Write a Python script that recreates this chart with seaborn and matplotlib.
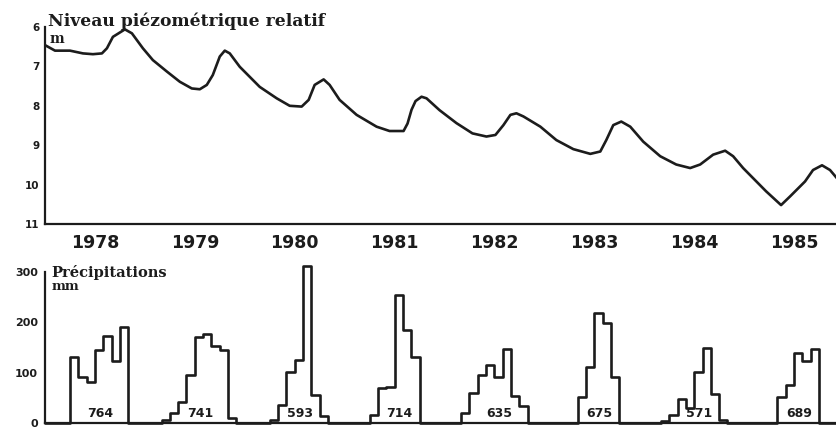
import numpy as np
import pandas as pd
import matplotlib
matplotlib.use("Agg")
import matplotlib.pyplot as plt
import seaborn as sns

# --- Relative piezometric level (m below reference), decimal years ---
piezo_time = [
    1978.00, 1978.10, 1978.25, 1978.38, 1978.48, 1978.57, 1978.62, 1978.68,
    1978.80, 1978.87, 1978.98, 1979.08, 1979.22, 1979.35, 1979.47, 1979.55,
    1979.62, 1979.68, 1979.75, 1979.80, 1979.85, 1979.95, 1980.15, 1980.32,
    1980.45, 1980.57, 1980.64, 1980.70, 1980.79, 1980.85, 1980.95, 1981.12,
    1981.32, 1981.45, 1981.59, 1981.63, 1981.67, 1981.71, 1981.77, 1981.82,
    1981.95, 1982.12, 1982.28, 1982.42, 1982.51, 1982.59, 1982.66, 1982.72,
    1982.79, 1982.96, 1983.12, 1983.29, 1983.46, 1983.56, 1983.62, 1983.69,
    1983.77, 1983.86, 1983.99, 1984.16, 1984.32, 1984.46, 1984.56, 1984.69,
    1984.81, 1984.89, 1984.99, 1985.22, 1985.37, 1985.46, 1985.61, 1985.69,
    1985.78, 1985.86, 1985.93,
]
piezo_level = [
    6.46, 6.60, 6.60, 6.67, 6.69, 6.67, 6.54, 6.25,
    6.06, 6.16, 6.54, 6.84, 7.13, 7.39, 7.56, 7.58,
    7.47, 7.22, 6.75, 6.60, 6.67, 7.01, 7.52, 7.81,
    8.00, 8.02, 7.85, 7.47, 7.33, 7.47, 7.85, 8.23,
    8.53, 8.64, 8.64, 8.45, 8.10, 7.88, 7.77, 7.81,
    8.11, 8.44, 8.70, 8.78, 8.74, 8.49, 8.23, 8.19,
    8.27, 8.53, 8.87, 9.10, 9.22, 9.16, 8.87, 8.49,
    8.40, 8.53, 8.91, 9.28, 9.49, 9.58, 9.49, 9.24,
    9.14, 9.28, 9.58, 10.17, 10.52, 10.30, 9.92, 9.63,
    9.51, 9.63, 9.84,
]

# --- Monthly precipitation (mm), 12 months per year ---
years = [1978, 1979, 1980, 1981, 1982, 1983, 1984, 1985]
rain_1978 = [0, 0, 0, 132, 91, 82, 145, 172, 123, 191, 0, 0]
rain_1979 = [0, 0, 5, 19, 42, 95, 170, 176, 153, 145, 9, 0]
rain_1980 = [0, 0, 0, 5, 35, 102, 125, 311, 56, 14, 0, 0]
rain_1981 = [0, 0, 0, 15, 70, 72, 254, 185, 131, 0, 0, 0]
rain_1982 = [0, 0, 19, 59, 95, 115, 91, 147, 54, 34, 0, 0]
rain_1983 = [0, 0, 0, 0, 52, 112, 219, 199, 91, 0, 0, 0]
rain_1984 = [0, 0, 4, 16, 47, 30, 102, 150, 58, 5, 0, 0]
rain_1985 = [0, 0, 0, 0, 52, 76, 139, 123, 148, 0, 0, 0]
annual_totals = [764, 741, 593, 714, 635, 675, 571, 689]

year_labels = ["1978", "1979", "1980", "1981", "1982", "1983", "1984", "1985"]
piezo_ticks = [6, 7, 8, 9, 10, 11]
rain_ticks = [0, 100, 200, 300]

monthly = [rain_1978, rain_1979, rain_1980, rain_1981,
           rain_1982, rain_1983, rain_1984, rain_1985]
rain_df = pd.DataFrame({
    "t": [y + m / 12 for y in years for m in range(12)],
    "mm": [v for row in monthly for v in row],
})
piezo_df = pd.DataFrame({"t": piezo_time, "level": piezo_level})

sns.set_style("white")
plt.rcParams["font.family"] = ["DejaVu Sans"]

INK = "#1c1c1c"
W, H = 837, 429
fig = plt.figure(figsize=(W / 100, H / 100), dpi=100)
fig.patch.set_facecolor("white")

x0, x1 = 1978.0, 1985.93
left = 45 / W
width = (W - 45) / W
ax_top = fig.add_axes([left, (H - 224) / H, width, 197 / H])
ax_bot = fig.add_axes([left, (H - 423) / H, width, 151 / H])

# Piezometric curve
sns.lineplot(data=piezo_df, x="t", y="level", ax=ax_top, color=INK,
             linewidth=1.9, estimator=None, sort=False,
             solid_joinstyle="round", solid_capstyle="round")
ax_top.set_xlim(x0, x1)
ax_top.set_ylim(11, 6)

# Precipitation outline (monthly steps)
sns.lineplot(data=rain_df, x="t", y="mm", ax=ax_bot, color=INK,
             linewidth=1.9, estimator=None, sort=False,
             drawstyle="steps-post", clip_on=False)
ax_bot.set_xlim(x0, x1)
ax_bot.set_ylim(0, 300)

for ax in (ax_top, ax_bot):
    ax.set_facecolor("white")
    for s in ("top", "right"):
        ax.spines[s].set_visible(False)
    for s in ("left", "bottom"):
        ax.spines[s].set_color(INK)
        ax.spines[s].set_linewidth(1.6)
    ax.set_xlabel("")
    ax.set_ylabel("")
    ax.set_xticks(range(1979, 1986))
    ax.tick_params(axis="both", which="major", direction="inout",
                   length=4, width=1.6, color=INK)

# Year labels centred between year boundaries
ax_top.set_xticks([y + 0.5 for y in years], minor=True)
ax_top.set_xticklabels(year_labels, minor=True, fontsize=12.5,
                       fontweight="bold", color=INK)
ax_top.tick_params(axis="x", which="minor", length=0, pad=7)
ax_top.tick_params(axis="x", which="major", labelbottom=False)
ax_bot.tick_params(axis="x", which="major", labelbottom=False)

ax_top.set_yticks(piezo_ticks)
ax_top.set_yticklabels([str(v) for v in piezo_ticks], fontsize=7.5,
                       fontweight="bold", color=INK)
ax_top.tick_params(axis="y", pad=2)

ax_bot.set_yticks(rain_ticks)
ax_bot.set_yticklabels([str(v) for v in rain_ticks], fontsize=8,
                       fontweight="bold", color=INK)
ax_bot.tick_params(axis="y", pad=3)

# Panel titles and units
ax_top.text(0.004, 1.03, "Niveau piézométrique relatif",
            transform=ax_top.transAxes, ha="left", va="center",
            family="DejaVu Serif", fontweight="bold", fontsize=12.3, color=INK)
ax_top.text(0.006, 0.94, "m", transform=ax_top.transAxes, ha="left",
            va="center", family="DejaVu Serif", fontweight="bold",
            fontsize=10, color=INK)
ax_bot.text(0.008, 1.0, "Précipitations", transform=ax_bot.transAxes,
            ha="left", va="center", family="DejaVu Serif",
            fontweight="bold", fontsize=10.5, color=INK)
ax_bot.text(0.008, 0.905, "mm", transform=ax_bot.transAxes, ha="left",
            va="center", family="DejaVu Serif", fontweight="bold",
            fontsize=9.5, color=INK)

# Annual totals written inside each year's block
for y, total in zip(years, annual_totals):
    ax_bot.text(y + 0.55, 18, str(total), ha="center", va="center",
                fontsize=9, fontweight="bold", color=INK)

fig.savefig("out.png", dpi=100, facecolor="white")
